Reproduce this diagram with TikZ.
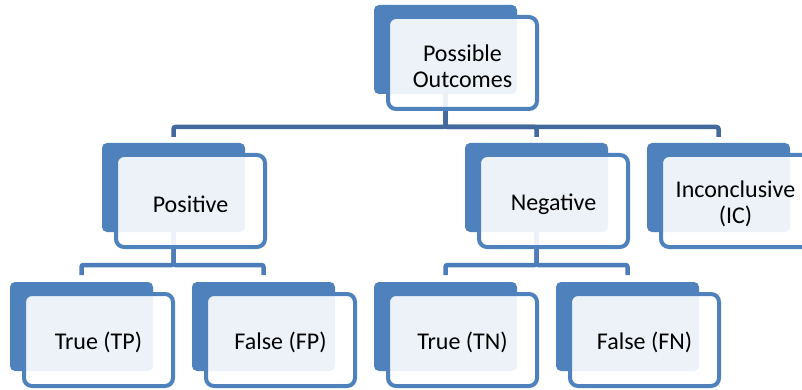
\documentclass[tikz,border=0pt]{standalone}
\usepackage{fontspec}
\setmainfont{Carlito}
\usetikzlibrary{calc}
\definecolor{accent}{RGB}{79,129,189}
\definecolor{topline}{RGB}{66,106,156}
\definecolor{subline}{RGB}{76,125,186}
\newcommand{\mystrut}{\rule{0pt}{23pt}}
\tikzset{
  backbox/.style={fill=accent, draw=none, rounded corners=5pt, minimum width=143pt,
    minimum height=89pt, inner sep=0pt, outer sep=0pt, anchor=north west},
  frontbox/.style={draw=accent, line width=4pt, fill=white, fill opacity=0.9, text opacity=1,
    rounded corners=8pt, minimum width=149pt, minimum height=92pt, anchor=north west,
    inner sep=0pt, align=center, text=black, font=\fontsize{24}{26}\selectfont},
  conn/.style={line width=4.5pt, rounded corners=2pt}
}
\begin{document}
\begin{tikzpicture}[x=1pt,y=-1pt]
\clip (0,0) rectangle (802,390);
\fill[white] (0,0) rectangle (802,390);
% back boxes
\node[backbox] (po)  at (374,5) {};
\node[backbox] (pos) at (102,143) {};
\node[backbox] (neg) at (465,143) {};
\node[backbox] (inc) at (647,143) {};
\node[backbox] (tp)  at (10,282) {};
\node[backbox] (fp)  at (192,282) {};
\node[backbox] (tn)  at (374,282) {};
\node[backbox] (fn)  at (556,282) {};
\coordinate (topbus) at (0,127);
\coordinate (lowbus) at (0,265);
% connectors
\draw[conn, draw=topline, shorten >=6pt] (po.south) -- (po.south |- topbus) -| (pos.north);
\draw[conn, draw=topline, shorten >=6pt] (po.south) -- (po.south |- topbus) -| (neg.north);
\draw[conn, draw=topline, shorten >=6pt] (po.south) -- (po.south |- topbus) -| (inc.north);
\draw[conn, draw=subline, shorten >=7pt] (pos.south) -- (pos.south |- lowbus) -| (tp.north);
\draw[conn, draw=subline, shorten >=7pt] (pos.south) -- (pos.south |- lowbus) -| (fp.north);
\draw[conn, draw=subline, shorten >=7pt] (neg.south) -- (neg.south |- lowbus) -| (tn.north);
\draw[conn, draw=subline, shorten >=7pt] (neg.south) -- (neg.south |- lowbus) -| (fn.north);
% front boxes
\node[frontbox] (poF)  at ($(po.north west)+(12,10)$)  {\mystrut Possible\\Outcomes};
\node[frontbox] (posF) at ($(pos.north west)+(12,10)$) {\mystrut Positive};
\node[frontbox] (negF) at ($(neg.north west)+(12,10)$) {\mystrut Negative};
\node[frontbox] (incF) at ($(inc.north west)+(12,10)$) {\mystrut Inconclusive\\(IC)};
\node[frontbox] (tpF)  at ($(tp.north west)+(12,10)$)  {\mystrut True (TP)};
\node[frontbox] (fpF)  at ($(fp.north west)+(12,10)$)  {\mystrut False (FP)};
\node[frontbox] (tnF)  at ($(tn.north west)+(12,10)$)  {\mystrut True (TN)};
\node[frontbox] (fnF)  at ($(fn.north west)+(12,10)$)  {\mystrut False (FN)};
\end{tikzpicture}
\end{document}
